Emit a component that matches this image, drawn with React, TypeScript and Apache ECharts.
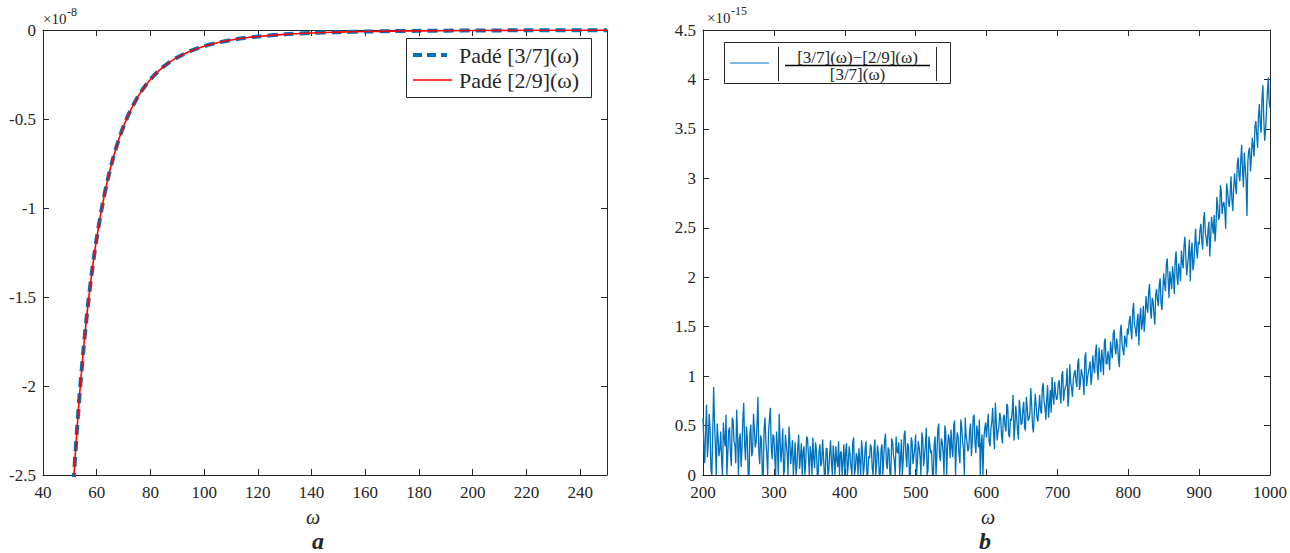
import { useEffect, useRef } from "react";
import * as echarts from "echarts";

const FONT = "'Liberation Serif', 'DejaVu Serif', serif";
const AXIS = "#262626";
const BLUE = "#0072BD";
const RED = "#FF0000";

// Panel a: Padé approximants (units of 1e-8)
const omegaA = [51, 52, 53, 54, 55, 56, 57, 58, 59, 60, 62, 64, 66, 68, 70, 72, 75, 78, 81, 84, 87, 90, 95, 100, 105, 110, 115, 120, 130, 140, 150, 160, 170, 180, 200, 220, 250];
const pade37 = [-2.634, -2.39, -2.173, -1.979, -1.806, -1.65, -1.511, -1.385, -1.271, -1.169, -0.992, -0.846, -0.726, -0.625, -0.541, -0.47, -0.383, -0.315, -0.261, -0.217, -0.182, -0.154, -0.1175, -0.0908, -0.0712, -0.0564, -0.0452, -0.0365, -0.0245, -0.0169, -0.012, -0.0087, -0.0064, -0.0048, -0.0028, -0.0018, -0.0009];
const pade29 = [-2.634, -2.39, -2.173, -1.979, -1.806, -1.65, -1.511, -1.385, -1.271, -1.169, -0.992, -0.846, -0.726, -0.625, -0.541, -0.47, -0.383, -0.315, -0.261, -0.217, -0.182, -0.154, -0.1175, -0.0908, -0.0712, -0.0564, -0.0452, -0.0365, -0.0245, -0.0169, -0.012, -0.0087, -0.0064, -0.0048, -0.0028, -0.0018, -0.0009];

// Panel b: relative difference (units of 1e-15).
// relDiff holds ω = 200, 202.5, ..., 1000; relDiffMid holds ω = 201.25, 203.75, ..., 998.75.
const omegaBStart = 200;
const omegaBStep = 2.5;
const relDiff = [
  0.58, 0.12, 0.71, 0.33, 0.46, 0.0, 0.89, 0.28, 0.52, 0.19,
  0.44, 0.0, 0.37, 0.61, 0.22, 0.48, 0.09, 0.55, 0.31, 0.66,
  0.0, 0.42, 0.27, 0.73, 0.15, 0.38, 0.0, 0.51, 0.24, 0.46,
  0.33, 0.79, 0.11, 0.36, 0.0, 0.58, 0.21, 0.44, 0.68, 0.16,
  0.39, 0.0, 0.29, 0.62, 0.13, 0.47, 0.05, 0.31, 0.0, 0.36,
  0.24, 0.0, 0.33, 0.09, 0.41, 0.18, 0.0, 0.29, 0.14, 0.37,
  0.0, 0.22, 0.38, 0.07, 0.26, 0.0, 0.31, 0.12, 0.19, 0.0,
  0.27, 0.05, 0.35, 0.0, 0.18, 0.29, 0.08, 0.0, 0.24, 0.13,
  0.0, 0.32, 0.11, 0.21, 0.0, 0.38, 0.06, 0.19, 0.27, 0.0,
  0.23, 0.09, 0.34, 0.0, 0.17, 0.28, 0.0, 0.36, 0.12, 0.21,
  0.0, 0.31, 0.18, 0.42, 0.06, 0.25, 0.0, 0.33, 0.14, 0.39,
  0.22, 0.0, 0.36, 0.15, 0.45, 0.08, 0.29, 0.0, 0.34, 0.19,
  0.41, 0.12, 0.28, 0.0, 0.37, 0.19, 0.48, 0.05, 0.31, 0.25,
  0.0, 0.39, 0.21, 0.52, 0.14, 0.33, 0.0, 0.44, 0.27, 0.36,
  0.46, 0.18, 0.55, 0.29, 0.38, 0.12, 0.49, 0.26, 0.58, 0.33,
  0.27, 0.52, 0.35, 0.61, 0.22, 0.44, 0.56, 0.31, 0.0, 0.47,
  0.38, 0.62, 0.29, 0.54, 0.41, 0.73, 0.35, 0.49, 0.57, 0.32,
  0.61, 0.44, 0.69, 0.38, 0.55, 0.81, 0.47, 0.59, 0.36, 0.66,
  0.52, 0.74, 0.45, 0.68, 0.57, 0.88, 0.49, 0.63, 0.71, 0.54,
  0.81, 0.62, 0.93, 0.69, 0.77, 0.58, 0.86, 0.99, 0.71, 0.83,
  0.78, 0.96, 0.72, 1.05, 0.84, 0.91, 0.69, 1.12, 0.88, 0.97,
  1.06, 0.89, 1.18, 0.93, 1.02, 0.81, 1.24, 0.98, 1.09, 0.91,
  1.21, 1.03, 1.32, 0.96, 1.15, 1.27, 1.01, 1.38, 1.12, 1.19,
  1.35, 1.18, 1.47, 1.22, 1.31, 1.09, 1.52, 1.26, 1.41, 1.29,
  1.42, 1.61, 1.37, 1.74, 1.48, 1.56, 1.31, 1.69, 1.53, 1.45,
  1.81, 1.64, 1.93, 1.58, 1.76, 1.52, 1.88, 1.71, 1.99, 1.67,
  2.04, 1.86, 2.19, 1.79, 1.97, 2.11, 1.83, 2.26, 1.92, 2.07,
  2.27, 2.09, 2.41, 2.02, 2.22, 1.96, 2.35, 2.14, 2.49, 2.19,
  2.33, 2.54, 2.28, 2.66, 2.39, 2.47, 2.21, 2.61, 2.44, 2.36,
  2.81, 2.58, 2.93, 2.64, 2.76, 2.49, 2.88, 2.71, 3.02, 2.67,
  3.05, 2.84, 3.21, 2.97, 3.34, 2.91, 3.12, 2.62, 3.28, 3.07,
  3.41, 3.22, 3.58, 3.31, 3.75, 3.46, 3.94, 3.38, 3.67, 4.02,
  3.71,
];
const relDiffMid = [
  0.31, 0.47, 0.18, 0.62, 0.05, 0.42, 0.55, 0.0, 0.38, 0.26,
  0.16, 0.53, 0.29, 0.0, 0.45, 0.21, 0.58, 0.34, 0.12, 0.40,
  0.36, 0.08, 0.57, 0.31, 0.49, 0.0, 0.43, 0.19, 0.62, 0.28,
  0.52, 0.24, 0.40, 0.0, 0.47, 0.33, 0.0, 0.56, 0.29, 0.41,
  0.18, 0.44, 0.0, 0.35, 0.27, 0.0, 0.41, 0.22, 0.49, 0.11,
  0.35, 0.16, 0.0, 0.28, 0.06, 0.32, 0.24, 0.0, 0.39, 0.20,
  0.29, 0.0, 0.17, 0.33, 0.0, 0.24, 0.09, 0.36, 0.0, 0.27,
  0.0, 0.21, 0.12, 0.30, 0.0, 0.15, 0.34, 0.22, 0.0, 0.31,
  0.24, 0.0, 0.29, 0.08, 0.33, 0.0, 0.22, 0.0, 0.14, 0.35,
  0.0, 0.27, 0.0, 0.19, 0.31, 0.07, 0.25, 0.0, 0.30, 0.0,
  0.26, 0.0, 0.35, 0.12, 0.28, 0.0, 0.37, 0.20, 0.0, 0.24,
  0.33, 0.17, 0.0, 0.40, 0.21, 0.32, 0.0, 0.38, 0.11, 0.27,
  0.0, 0.34, 0.18, 0.43, 0.09, 0.30, 0.0, 0.39, 0.22, 0.0,
  0.31, 0.0, 0.46, 0.19, 0.37, 0.24, 0.50, 0.0, 0.41, 0.17,
  0.27, 0.51, 0.0, 0.43, 0.21, 0.56, 0.34, 0.0, 0.40, 0.24,
  0.45, 0.19, 0.59, 0.33, 0.50, 0.28, 0.0, 0.41, 0.36, 0.53,
  0.51, 0.33, 0.47, 0.68, 0.26, 0.55, 0.44, 0.63, 0.39, 0.58,
  0.49, 0.72, 0.41, 0.57, 0.64, 0.35, 0.70, 0.45, 0.76, 0.51,
  0.66, 0.48, 0.79, 0.55, 0.62, 0.71, 0.43, 0.82, 0.58, 0.67,
  0.65, 0.88, 0.74, 0.56, 0.91, 0.70, 0.63, 0.80, 0.94, 0.76,
  0.92, 0.81, 1.01, 0.75, 0.89, 1.08, 0.82, 0.94, 0.79, 1.03,
  0.95, 1.13, 0.86, 1.07, 0.97, 1.19, 0.90, 1.04, 1.15, 1.00,
  1.09, 1.24, 1.07, 1.29, 1.04, 1.18, 1.34, 1.13, 1.25, 1.06,
  1.26, 1.43, 1.29, 1.38, 1.17, 1.45, 1.33, 1.21, 1.36, 1.48,
  1.55, 1.46, 1.66, 1.52, 1.40, 1.63, 1.58, 1.47, 1.71, 1.59,
  1.70, 1.85, 1.68, 1.79, 1.62, 1.83, 1.77, 1.92, 1.74, 1.86,
  1.93, 2.13, 1.98, 2.06, 1.88, 2.01, 2.17, 2.00, 2.14, 1.96,
  2.16, 2.32, 2.20, 2.13, 2.38, 2.25, 2.07, 2.31, 2.28, 2.36,
  2.48, 2.37, 2.59, 2.45, 2.31, 2.56, 2.40, 2.52, 2.63, 2.50,
  2.72, 2.61, 2.86, 2.74, 2.68, 2.95, 2.77, 2.84, 2.79, 2.90,
  2.93, 3.14, 3.03, 3.19, 3.08, 3.26, 2.99, 3.17, 3.31, 3.22,
  3.33, 3.52, 3.44, 3.63, 3.55, 3.81, 3.60, 3.49, 3.86, 3.78,
];

const xTicksA = { min: 40, max: 250, interval: 20 };
const yTicksA = { min: -2.5, max: 0, interval: 0.5 };
const xTicksB = { min: 200, max: 1000, interval: 100 };
const yTicksB = { min: 0, max: 4.5, interval: 0.5 };

const labelStyle = { color: AXIS, fontFamily: FONT, fontSize: 17 };

function boxAxis(kind: "x" | "y", gridIndex: number, r: { min: number; max: number; interval: number }, position: string, labels: boolean) {
  return {
    type: "value",
    gridIndex,
    position,
    min: r.min,
    max: r.max,
    interval: r.interval,
    splitLine: { show: false },
    axisLine: { show: true, onZero: false, lineStyle: { color: AXIS, width: 1 } },
    axisTick: { show: true, inside: true, length: 6, lineStyle: { color: AXIS, width: 1 } },
    axisLabel: labels
      ? {
          show: true,
          margin: kind === "x" ? 9 : 7,
          showMaxLabel: kind === "x" && r.max % r.interval !== 0 ? false : undefined,
          formatter: (v: number) => String(v),
          ...labelStyle,
        }
      : { show: false },
  };
}

export default function App() {
  const ref = useRef<HTMLDivElement>(null);

  useEffect(() => {
    document.body.style.margin = "0";
    if (!ref.current) return;
    const chart = echarts.init(ref.current, undefined, { renderer: "svg" });

    const dataA37 = omegaA.map((w, i) => [w, pade37[i]]);
    const dataA29 = omegaA.map((w, i) => [w, pade29[i]]);
    const dataB: number[][] = [];
    relDiff.forEach((v, i) => {
      const w = omegaBStart + i * omegaBStep;
      dataB.push([w, v]);
      if (i < relDiffMid.length) dataB.push([w + omegaBStep / 2, relDiffMid[i]]);
    });

    const txt = (x: number, y: number, text: string, extra: any = {}) => ({
      type: "text",
      x,
      y,
      silent: true,
      style: { text, fill: AXIS, font: `17px ${FONT}`, textAlign: "left", textVerticalAlign: "middle", ...extra },
    });

    chart.setOption({
      animation: false,
      backgroundColor: "#ffffff",
      grid: [
        { left: 43, top: 30, width: 564, height: 445, containLabel: false },
        { left: 703, top: 30, width: 570, height: 445, containLabel: false },
      ],
      xAxis: [
        boxAxis("x", 0, xTicksA, "bottom", true),
        boxAxis("x", 0, xTicksA, "top", false),
        boxAxis("x", 1, xTicksB, "bottom", true),
        boxAxis("x", 1, xTicksB, "top", false),
      ],
      yAxis: [
        boxAxis("y", 0, yTicksA, "left", true),
        boxAxis("y", 0, yTicksA, "right", false),
        boxAxis("y", 1, yTicksB, "left", true),
        boxAxis("y", 1, yTicksB, "right", false),
      ],
      series: [
        {
          name: "Padé [3/7](ω)",
          type: "line",
          xAxisIndex: 0,
          yAxisIndex: 0,
          data: dataA37,
          symbol: "none",
          smooth: 0.3,
          clip: true,
          lineStyle: { color: BLUE, width: 4, type: [10, 6] },
        },
        {
          name: "Padé [2/9](ω)",
          type: "line",
          xAxisIndex: 0,
          yAxisIndex: 0,
          data: dataA29,
          symbol: "none",
          smooth: 0.3,
          clip: true,
          lineStyle: { color: RED, width: 1.6 },
        },
        {
          name: "relative difference",
          type: "line",
          xAxisIndex: 2,
          yAxisIndex: 2,
          data: dataB,
          symbol: "none",
          clip: true,
          lineStyle: { color: BLUE, width: 1.3 },
        },
      ],
      graphic: [
        // exponent notes
        txt(43, 19, "×10", { font: `15px ${FONT}` }),
        txt(67, 12, "-8", { font: `12px ${FONT}` }),
        txt(707, 18, "×10", { font: `15px ${FONT}` }),
        txt(731, 11, "-15", { font: `12px ${FONT}` }),
        // axis names and panel letters
        txt(313, 517, "ω", { font: `italic 20px ${FONT}`, textAlign: "center" }),
        txt(988, 517, "ω", { font: `italic 20px ${FONT}`, textAlign: "center" }),
        txt(318, 541, "a", { font: `italic bold 24px ${FONT}`, textAlign: "center" }),
        txt(985, 541, "b", { font: `italic bold 24px ${FONT}`, textAlign: "center" }),
        // legend, panel a
        {
          type: "rect",
          silent: true,
          shape: { x: 406.5, y: 38.5, width: 185, height: 59 },
          style: { fill: "#ffffff", stroke: AXIS, lineWidth: 1 },
          z: 10,
        },
        {
          type: "line",
          silent: true,
          shape: { x1: 413, y1: 55, x2: 447, y2: 55 },
          style: { stroke: BLUE, lineWidth: 4, lineDash: [9, 5] },
          z: 11,
        },
        { ...txt(459, 55, "Padé [3/7](ω)", { font: `22px ${FONT}` }), z: 11 },
        {
          type: "line",
          silent: true,
          shape: { x1: 413, y1: 80, x2: 452, y2: 80 },
          style: { stroke: RED, lineWidth: 1.6 },
          z: 11,
        },
        { ...txt(459, 80, "Padé [2/9](ω)", { font: `22px ${FONT}` }), z: 11 },
        // legend, panel b
        {
          type: "rect",
          silent: true,
          shape: { x: 724.5, y: 42.5, width: 226, height: 41 },
          style: { fill: "#ffffff", stroke: AXIS, lineWidth: 1 },
          z: 10,
        },
        {
          type: "line",
          silent: true,
          shape: { x1: 730, y1: 63, x2: 769, y2: 63 },
          style: { stroke: BLUE, lineWidth: 1 },
          z: 11,
        },
        {
          type: "line",
          silent: true,
          shape: { x1: 778.5, y1: 47, x2: 778.5, y2: 81 },
          style: { stroke: AXIS, lineWidth: 1 },
          z: 11,
        },
        {
          type: "line",
          silent: true,
          shape: { x1: 936.5, y1: 47, x2: 936.5, y2: 81 },
          style: { stroke: AXIS, lineWidth: 1 },
          z: 11,
        },
        { ...txt(857.5, 57, "[3/7](ω)−[2/9](ω)", { font: `17px ${FONT}`, textAlign: "center" }), z: 11 },
        {
          type: "line",
          silent: true,
          shape: { x1: 785, y1: 65.5, x2: 930, y2: 65.5 },
          style: { stroke: "#000000", lineWidth: 1.5 },
          z: 11,
        },
        { ...txt(857.5, 74.5, "[3/7](ω)", { font: `17px ${FONT}`, textAlign: "center" }), z: 11 },
      ],
    });

    return () => chart.dispose();
  }, []);

  return <div ref={ref} style={{ width: 1290, height: 553 }} />;
}
